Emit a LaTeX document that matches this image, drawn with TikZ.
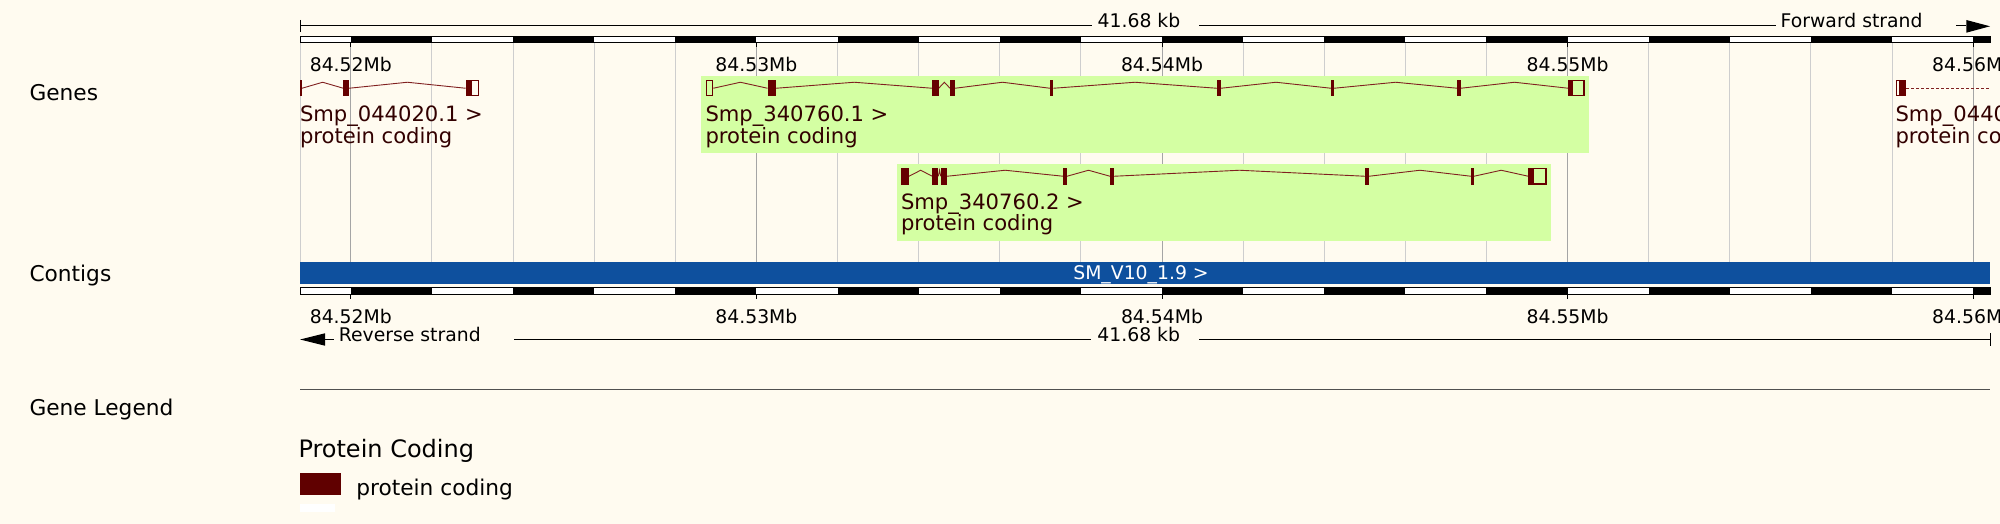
\documentclass[tikz,border=0pt]{standalone}
\usepackage{fontspec}
\setmainfont{DejaVu Sans}
\definecolor{bgc}{RGB}{255,251,240}
\definecolor{exonc}{RGB}{102,0,0}
\definecolor{intronc}{RGB}{128,32,32}
\definecolor{lblc}{RGB}{50,0,0}
\definecolor{hlc}{RGB}{212,255,163}
\definecolor{contigc}{RGB}{14,80,158}
\definecolor{gridminor}{RGB}{206,206,206}
\definecolor{gridmajor}{RGB}{165,165,165}
\definecolor{legline}{RGB}{80,80,80}
\definecolor{legbox}{RGB}{96,0,0}
\newcommand\fsz[1]{\fontsize{#1}{#1}\selectfont}
\begin{document}
\begin{tikzpicture}[x=1pt,y=-1pt,
  txt/.style={inner sep=0pt, outer sep=0pt, anchor=base west},
  tracklbl/.style={txt, font=\fsz{21.7}},
  rulertxt/.style={inner sep=0pt, outer sep=0pt, anchor=base, font=\fsz{18.8}},
  rulerw/.style={txt, font=\fsz{18.8}},
  genelbl/.style={txt, font=\fsz{21.1}, text=lblc},
  exon/.style={fill=exonc, draw=none},
  utr/.style={draw=exonc, line width=1.3pt, fill=none},
  intron/.style={draw=intronc, line width=0.9pt},
  hl/.style={fill=hlc, draw=none},
  rline/.style={draw=black, line width=1pt},
]
\useasboundingbox (0,0) rectangle (2000,524);
\fill[bgc] (0,0) rectangle (2000,524);

% grid lines
\draw[draw=gridminor, line width=1pt] (300,42.5) -- (300,262);
\foreach \k in {0,...,20}{
  \pgfmathsetmacro\gx{350.8+81.12*\k}
  \pgfmathtruncatemacro\mj{mod(\k,5)}
  \ifnum\mj=0
    \draw[draw=gridmajor, line width=1pt] (\gx,42.5) -- (\gx,262);
  \else
    \draw[draw=gridminor, line width=1pt] (\gx,42.5) -- (\gx,262);
  \fi
}

% highlights
\fill[hl] (701,76) rectangle (1589,152.7);
\fill[hl] (897.3,164) rectangle (1551,240.5);

% gene 1
\foreach \a/\b in {302/343.3, 349/465.7}{
  \draw[intron] (\a,88.25) -- ({(\a+\b)/2},82.25) -- (\b,88.25);
}
\foreach \a/\b in {300/302, 343.3/349, 465.7/470.7}{
  \fill[exon] (\a,80) rectangle (\b,96.5);
}
\draw[utr] (471.35,80.65) rectangle (478.65,95.85);

% gene 2
\foreach \a/\b in {713.3/767.5, 776/932.3, 938.7/950, 955/1050, 1053.3/1216.8, 1221/1331, 1334/1457.3, 1460.7/1568.3}{
  \draw[intron] (\a,88.25) -- ({(\a+\b)/2},82.25) -- (\b,88.25);
}
\foreach \a/\b in {767.5/776, 932.3/938.7, 950/955, 1050/1053.3, 1216.8/1221, 1331/1334, 1457.3/1460.7, 1568.3/1571.7}{
  \fill[exon] (\a,80) rectangle (\b,96.5);
}
\draw[utr] (706.15,80.65) rectangle (712.65,95.85);
\draw[utr] (1572.35,80.65) rectangle (1584.05,95.85);

% gene 3
\foreach \a/\b in {909/932.3, 938.3/940.7, 947/1063.3, 1067/1110, 1114/1365, 1369/1471, 1474/1528.3}{
  \draw[intron] (\a,176.25) -- ({(\a+\b)/2},170.25) -- (\b,176.25);
}
\foreach \a/\b in {901/909, 932.3/938.3, 940.7/947, 1063.3/1067, 1110/1114, 1365/1369, 1471/1474, 1528.3/1532.3}{
  \fill[exon] (\a,168) rectangle (\b,184.5);
}
\draw[utr] (1532.95,168.65) rectangle (1546.05,183.85);

% gene 4
\draw[utr] (1896.15,80.65) rectangle (1899.85,95.85);
\fill[exon] (1900.5,80) rectangle (1906,96.5);
\coordinate (g4end) at (1906,88.25);
\coordinate (trackR) at (1990,88.25);
\draw[draw=intronc, line width=0.9pt, dash pattern=on 2.5pt off 2.5pt] (g4end) -- (trackR);

% gene labels
\node[genelbl] (g1a) at (300,121.7) {Smp\_044020.1 >};
\node[genelbl] (g1b) at (300,143.1) {protein coding};
\node[genelbl] (g2a) at (705.5,121.7) {Smp\_340760.1 >};
\node[genelbl] (g2b) at (705.5,143.1) {protein coding};
\node[genelbl] (g3a) at (901,209.3) {Smp\_340760.2 >};
\node[genelbl] (g3b) at (901,230.7) {protein coding};
\node[genelbl] (g4a) at (1895.5,121.7) {Smp\_0440};
\node[genelbl] (g4b) at (1895.5,143.1) {protein co};

% track labels
\node[tracklbl] (lgenes) at (29.5,101) {Genes};
\node[tracklbl] (lcontigs) at (29.5,281.7) {Contigs};
\node[tracklbl] (llegend) at (29.5,415) {Gene Legend};

% top ruler
\coordinate (tl) at (300,26);
\coordinate (tla) at (1092,26);
\coordinate (tlb) at (1199.4,26);
\coordinate (tlc) at (1776,26);
\coordinate (tld) at (1956,26);
\coordinate (tle) at (1966.3,26);
\draw[rline] (300,20) -- (300,32.3);
\draw[rline] (tl) -- (tla);
\draw[rline] (tlb) -- (tlc);
\draw[rline] (tld) -- (tle);
\fill[black] (1966.3,20) -- (1990,26.3) -- (1966.3,32.7) -- cycle;
\node[rulertxt] (kbtop) at (1139,27.7) {41.68 kb};
\node[rulerw] (fwd) at (1780.7,27.7) {Forward strand};

% scale bars
\foreach \yt/\yb in {36.5/42.5, 287.7/294}{
  \fill[white] (300,\yt) rectangle (1990,\yb);
  \foreach \k in {0,2,...,20}{
    \pgfmathsetmacro\xa{350.8+81.12*\k}
    \pgfmathsetmacro\xb{min(350.8+81.12*(\k+1),1990)}
    \fill[black] (\xa,\yt) rectangle (\xb,\yb);
  }
  \draw[black, line width=1pt] (300,\yt) rectangle (1990,\yb);
}
\foreach \k/\lab in {0/84.52Mb, 5/84.53Mb, 10/84.54Mb, 15/84.55Mb, 20/84.56Mb}{
  \pgfmathsetmacro\gx{350.8+81.12*\k}
  \draw[rline] (\gx,42.5) -- (\gx,47.5);
  \draw[rline] (\gx,294) -- (\gx,298.7);
  \node[rulertxt] at (\gx,72) {\lab};
  \node[rulertxt] at (\gx,323.3) {\lab};
}

% contig
\fill[contigc] (300,262.3) rectangle (1990,284.3);
\node[rulertxt, text=white] (contig) at (1141,279.3) {SM\_V10\_1.9 >};

% bottom ruler
\coordinate (bl) at (325,339.5);
\coordinate (bla) at (334.3,339.5);
\coordinate (blb) at (514,339.5);
\coordinate (blc) at (1091,339.5);
\coordinate (bld) at (1199,339.5);
\coordinate (ble) at (1990,339.5);
\fill[black] (300,339.5) -- (325,333.3) -- (325,345.7) -- cycle;
\draw[rline] (bl) -- (bla);
\draw[rline] (blb) -- (blc);
\draw[rline] (bld) -- (ble);
\draw[rline] (1990,333.3) -- (1990,346);
\node[rulerw] (rev) at (338.9,341.7) {Reverse strand};
\node[rulertxt] (kbbot) at (1138.7,341) {41.68 kb};

% legend
\coordinate (legL) at (300,389);
\coordinate (legR) at (1990,389);
\draw[draw=legline, line width=1pt] (legL) -- (legR);
\node[txt, font=\fsz{24}] (pch) at (298.5,457.3) {Protein Coding};
\fill[legbox] (300,472.7) rectangle (340.7,495.3);
\fill[white] (300,504) rectangle (335,512.3);
\node[txt, font=\fsz{21.7}] (pcl) at (356.3,495.7) {protein coding};
\end{tikzpicture}
\end{document}
